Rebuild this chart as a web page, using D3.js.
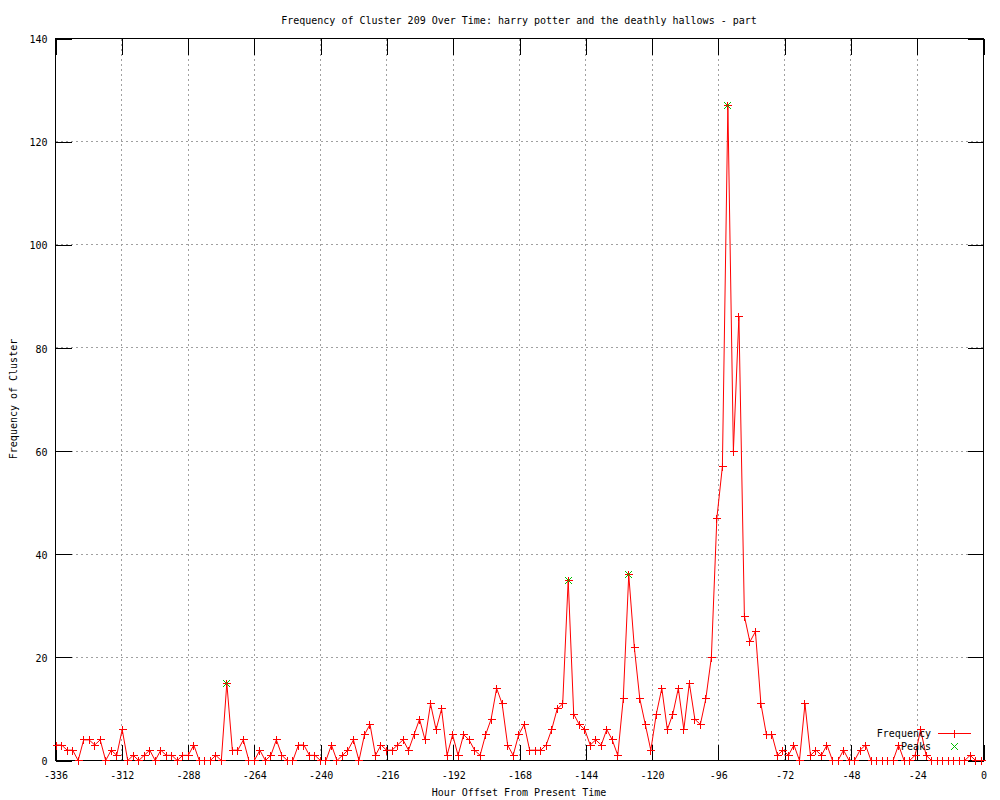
<!DOCTYPE html>
<html>
<head>
<meta charset="utf-8">
<script src="https://cdn.jsdelivr.net/npm/d3@7"></script>
<style>
  body { margin: 0; background: #fff; }
  svg { display: block; font-family: 'DejaVu Sans Mono', monospace; font-size: 10px; }
</style>
</head>
<body>
<div id="chart-container"></div>
<script>
// hour offsets of each 2-hour bin
const hours = [
  -335.77, -333.78, -331.78, -329.79, -327.8, -325.8, -323.81, -321.81, -319.82, -317.83,
  -315.83, -313.84, -311.85, -309.85, -307.86, -305.87, -303.87, -301.88, -299.89, -297.89,
  -295.9, -293.9, -291.91, -289.92, -287.92, -285.93, -283.94, -281.94, -279.95, -277.96,
  -275.96, -273.97, -271.97, -269.98, -267.99, -265.99, -264.0, -262.01, -260.01, -258.02,
  -256.03, -254.03, -252.04, -250.05, -248.05, -246.06, -244.06, -242.07, -240.08, -238.08,
  -236.09, -234.1, -232.1, -230.11, -228.12, -226.12, -224.13, -222.13, -220.14, -218.15,
  -216.15, -214.16, -212.17, -210.17, -208.18, -206.19, -204.19, -202.2, -200.21, -198.21,
  -196.22, -194.22, -192.23, -190.24, -188.24, -186.25, -184.26, -182.26, -180.27, -178.28,
  -176.28, -174.29, -172.3, -170.3, -168.31, -166.31, -164.32, -162.33, -160.33, -158.34,
  -156.35, -154.35, -152.36, -150.37, -148.37, -146.38, -144.38, -142.39, -140.4, -138.4,
  -136.41, -134.42, -132.42, -130.43, -128.44, -126.44, -124.45, -122.45, -120.46, -118.47,
  -116.47, -114.48, -112.49, -110.49, -108.5, -106.51, -104.51, -102.52, -100.53, -98.53,
  -96.54, -94.54, -92.55, -90.56, -88.56, -86.57, -84.58, -82.58, -80.59, -78.6,
  -76.6, -74.61, -72.61, -70.62, -68.63, -66.63, -64.64, -62.65, -60.65, -58.66,
  -56.67, -54.67, -52.68, -50.69, -48.69, -46.7, -44.7, -42.71, -40.72, -38.72,
  -36.73, -34.74, -32.74, -30.75, -28.76, -26.76, -24.77, -22.77, -20.78, -18.79,
  -16.79, -14.8, -12.81, -10.81, -8.82, -6.83, -4.83, -2.84, -0.84,
]

const frequency = [
  3, 3, 2, 2, 0, 4, 4, 3, 4, 0,
  2, 1, 6, 0, 1, 0, 1, 2, 0, 2,
  1, 1, 0, 1, 1, 3, 0, 0, 0, 1,
  0, 15, 2, 2, 4, 0, 0, 2, 0, 1,
  4, 1, 0, 0, 3, 3, 1, 1, 0, 0,
  3, 0, 1, 2, 4, 0, 5, 7, 1, 3,
  2, 2, 3, 4, 2, 5, 8, 4, 11, 6,
  10, 1, 5, 1, 5, 4, 2, 1, 5, 8,
  14, 11, 3, 1, 5, 7, 2, 2, 2, 3,
  6, 10, 11, 35, 9, 7, 6, 3, 4, 3,
  6, 4, 1, 12, 36, 22, 12, 7, 2, 9,
  14, 6, 9, 14, 6, 15, 8, 7, 12, 20,
  47, 57, 127, 60, 86, 28, 23, 25, 11, 5,
  5, 1, 2, 1, 3, 0, 11, 1, 2, 1,
  3, 0, 0, 2, 0, 0, 2, 3, 0, 0,
  0, 0, 0, 3, 0, 0, 1, 6, 1, 0,
  0, 0, 0, 0, 0, 0, 1, 0, 0,
]

const peakHours = [-273.97, -150.37, -128.44, -92.55]
const peakValues = [15, 35, 36, 127]

const xTicks = [-336, -312, -288, -264, -240, -216, -192, -168, -144, -120, -96, -72, -48, -24, 0]
const yTicks = [0, 20, 40, 60, 80, 100, 120, 140]

const titleText = 'Frequency of Cluster 209 Over Time: harry potter and the deathly hallows - part'
const xLabel = 'Hour Offset From Present Time'
const yLabel = 'Frequency of Cluster'
const seriesNames = ['Frequency', 'Peaks']

const width = 1000
const height = 800
const plotLeft = 55
const plotRight = 983
const plotTop = 38
const plotBottom = 760
const tickLen = 16

const red = '#ff0000'
const green = '#00c000'
const gridColor = '#a0a0a0'

const x = d3.scaleLinear().domain([-336, 0]).range([plotLeft, plotRight])
const y = d3.scaleLinear().domain([0, 140]).range([plotBottom, plotTop])

const svg = d3
  .select('#chart-container')
  .append('svg')
  .attr('width', width)
  .attr('height', height)
  .attr('viewBox', `0 0 ${width} ${height}`)

// half pixel shift so 1px lines stay sharp
const g = svg.append('g').attr('transform', 'translate(0.5,0.5)')

// dotted grid
g.append('g')
  .selectAll('line')
  .data(xTicks.slice(1, -1))
  .join('line')
  .attr('x1', d => x(d))
  .attr('x2', d => x(d))
  .attr('y1', plotTop)
  .attr('y2', plotBottom)
  .attr('stroke', gridColor)
  .attr('stroke-dasharray', '2,3')
  .attr('shape-rendering', 'crispEdges')

g.append('g')
  .selectAll('line')
  .data(yTicks.slice(1, -1))
  .join('line')
  .attr('x1', plotLeft)
  .attr('x2', plotRight)
  .attr('y1', d => y(d))
  .attr('y2', d => y(d))
  .attr('stroke', gridColor)
  .attr('stroke-dasharray', '2,3')
  .attr('shape-rendering', 'crispEdges')

// axes, ticks pointing inward like gnuplot
const styleAxis = sel => {
  sel.select('.domain').remove()
  sel.attr('font-family', null).attr('font-size', null)
  sel.selectAll('line').attr('stroke', '#000').attr('shape-rendering', 'crispEdges')
  sel.selectAll('text').attr('fill', '#000')
}

g.append('g')
  .attr('transform', `translate(0,${plotBottom})`)
  .call(d3.axisBottom(x).tickValues(xTicks).tickSize(-tickLen).tickPadding(11).tickFormat(d => String(d)))
  .call(styleAxis)

g.append('g')
  .attr('transform', `translate(0,${plotTop})`)
  .call(d3.axisTop(x).tickValues(xTicks).tickSize(-tickLen).tickFormat(''))
  .call(styleAxis)

g.append('g')
  .attr('transform', `translate(${plotLeft},0)`)
  .call(d3.axisLeft(y).tickValues(yTicks).tickSize(-tickLen).tickPadding(8).tickFormat(d => String(d)))
  .call(styleAxis)
  .selectAll('text')
  .attr('dy', '0.42em')

g.append('g')
  .attr('transform', `translate(${plotRight},0)`)
  .call(d3.axisRight(y).tickValues(yTicks).tickSize(-tickLen).tickFormat(''))
  .call(styleAxis)

g.append('rect')
  .attr('x', plotLeft)
  .attr('y', plotTop)
  .attr('width', plotRight - plotLeft)
  .attr('height', plotBottom - plotTop)
  .attr('fill', 'none')
  .attr('stroke', '#000')
  .attr('shape-rendering', 'crispEdges')

// titles
svg.append('text')
  .attr('x', (plotLeft + plotRight) / 2)
  .attr('y', 24)
  .attr('text-anchor', 'middle')
  .text(titleText)

svg.append('text')
  .attr('x', (plotLeft + plotRight) / 2)
  .attr('y', 796)
  .attr('text-anchor', 'middle')
  .text(xLabel)

svg.append('text')
  .attr('transform', `translate(17,${(plotTop + plotBottom) / 2}) rotate(-90)`)
  .attr('text-anchor', 'middle')
  .text(yLabel)

const plusPath = 'M-4,0H4M0,-4V4'
const crossPath = 'M-3.5,-3.5L3.5,3.5M-3.5,3.5L3.5,-3.5'

// key (text first, data drawn over it as gnuplot does)
const keyX = 931
const keyY = [733, 746]
svg.append('g')
  .selectAll('text')
  .data(seriesNames)
  .join('text')
  .attr('x', keyX)
  .attr('y', (d, i) => keyY[i] + 4)
  .attr('text-anchor', 'end')
  .text(d => d)

const rows = hours.map((h, i) => ({ h, v: frequency[i] }))

const line = d3
  .line()
  .x(d => x(d.h))
  .y(d => y(d.v))

g.append('path')
  .datum(rows)
  .attr('d', line)
  .attr('fill', 'none')
  .attr('stroke', red)
  .attr('stroke-width', 1)

g.append('g')
  .selectAll('path')
  .data(rows)
  .join('path')
  .attr('transform', d => `translate(${Math.round(x(d.h))},${Math.round(y(d.v))})`)
  .attr('d', plusPath)
  .attr('stroke', red)
  .attr('fill', 'none')
  .attr('shape-rendering', 'crispEdges')

// key samples
g.append('line')
  .attr('x1', 937)
  .attr('x2', 970)
  .attr('y1', keyY[0])
  .attr('y2', keyY[0])
  .attr('stroke', red)
  .attr('shape-rendering', 'crispEdges')
g.append('path')
  .attr('transform', `translate(954,${keyY[0]})`)
  .attr('d', plusPath)
  .attr('stroke', red)
  .attr('shape-rendering', 'crispEdges')

// peaks
g.append('g')
  .selectAll('path')
  .data(peakHours.map((h, i) => ({ h, v: peakValues[i] })))
  .join('path')
  .attr('transform', d => `translate(${Math.round(x(d.h))},${Math.round(y(d.v))})`)
  .attr('d', crossPath)
  .attr('stroke', green)
  .attr('fill', 'none')

g.append('path')
  .attr('transform', `translate(954,${keyY[1]})`)
  .attr('d', crossPath)
  .attr('stroke', green)
  .attr('fill', 'none')
</script>
</body>
</html>
